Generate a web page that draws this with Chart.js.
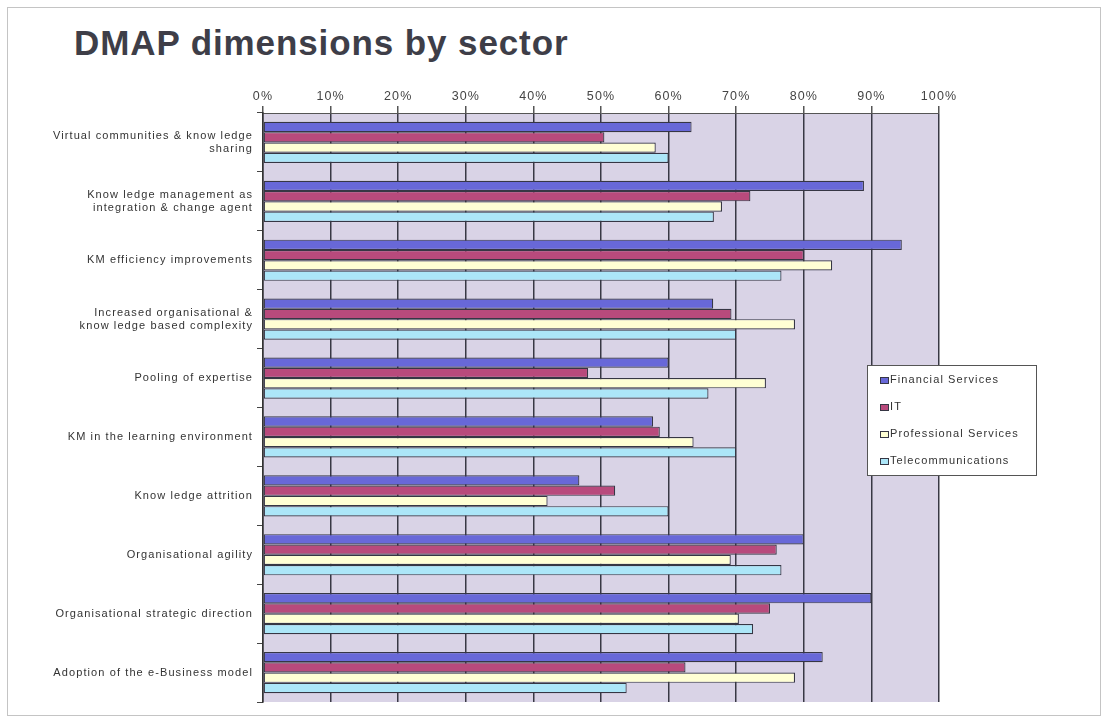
<!DOCTYPE html>
<html>
<head>
<meta charset="utf-8">
<title>DMAP dimensions by sector</title>
<script src="https://cdn.jsdelivr.net/npm/chart.js"></script>
<style>
  html, body { margin: 0; padding: 0; background: #fff; }
  .wrap { position: relative; width: 1108px; height: 721px; overflow: hidden; }
  .frame { position: absolute; left: 7px; top: 7px; width: 1094px; height: 709px; border: 1px solid #c4c4c4; box-sizing: border-box; }
  h1 { position: absolute; left: 74px; top: 25px; margin: 0; font: bold 35px/1 "Liberation Sans", Arial, sans-serif; letter-spacing: 0.9px; color: #3e3e48; white-space: nowrap; }
  canvas { position: absolute; left: 0; top: 0; }
</style>
</head>
<body>
<div class="wrap">
  <div class="frame"></div>
  <h1>DMAP dimensions by sector</h1>
  <canvas id="bar-chart-dmap" width="1108" height="721"></canvas>
</div>
<script>
const categories = [
  ["Virtual communities & know ledge", "sharing"],
  ["Know ledge management as", "integration & change agent"],
  "KM efficiency improvements",
  ["Increased organisational &", "know ledge based complexity"],
  "Pooling of expertise",
  "KM in the learning environment",
  "Know ledge attrition",
  "Organisational agility",
  "Organisational strategic direction",
  "Adoption of the e-Business model"
];

const financialServices = [63.4, 88.9, 94.5, 66.6, 60, 57.7, 46.8, 80, 90, 82.8];
const it = [50.5, 72.1, 80, 69.3, 48.1, 58.7, 52.1, 76, 75, 62.5];
const professionalServices = [58.1, 67.9, 84.2, 78.7, 74.4, 63.7, 42.1, 69.2, 70.4, 78.7];
const telecommunications = [60, 66.7, 76.7, 70, 65.9, 70, 60, 76.7, 72.5, 53.8];

const xTicks = [0, 10, 20, 30, 40, 50, 60, 70, 80, 90, 100];

const FONT = '"Liberation Sans", Arial, sans-serif';
const OUTLINE = '#363644';

// the labels are set a little loose, so widen the canvas letter spacing
const looseText = {
  id: 'looseText',
  beforeUpdate(chart) { chart.ctx.letterSpacing = '1.1px'; },
  beforeDraw(chart) { chart.ctx.letterSpacing = '1.1px'; }
};

// lavender plot background behind the grid
const plotBackground = {
  id: 'plotBackground',
  beforeDraw(chart) {
    const { ctx, chartArea: a } = chart;
    ctx.save();
    ctx.fillStyle = '#d9d3e6';
    ctx.fillRect(a.left, a.top, a.right - a.left, a.bottom - a.top);
    ctx.restore();
  }
};

// boxed legend sitting over the right edge of the plot
const boxLegend = {
  id: 'boxLegend',
  afterDraw(chart) {
    const ctx = chart.ctx;
    const x = 867, y = 365, w = 169, h = 110;
    ctx.save();
    ctx.fillStyle = '#fff';
    ctx.fillRect(x, y, w, h);
    ctx.strokeStyle = '#555';
    ctx.lineWidth = 1;
    ctx.strokeRect(x + 0.5, y + 0.5, w, h);
    ctx.font = '11px ' + FONT;
    ctx.textBaseline = 'middle';
    chart.data.datasets.forEach((ds, i) => {
      const cy = y + 15 + i * 27;
      ctx.fillStyle = ds.backgroundColor;
      ctx.fillRect(x + 13, cy - 3, 9, 6);
      ctx.strokeStyle = OUTLINE;
      ctx.strokeRect(x + 13.5, cy - 2.5, 8, 6);
      ctx.fillStyle = '#333';
      ctx.fillText(ds.label, x + 23, cy);
    });
    ctx.restore();
  }
};

const data = {
  labels: categories,
  datasets: [
    { label: 'Financial Services', data: financialServices, backgroundColor: '#6868d8' },
    { label: 'IT', data: it, backgroundColor: '#b84a7c' },
    { label: 'Professional Services', data: professionalServices, backgroundColor: '#ffffd4' },
    { label: 'Telecommunications', data: telecommunications, backgroundColor: '#ace6f8' }
  ].map(ds => Object.assign(ds, {
    borderColor: OUTLINE,
    borderWidth: 1.2,
    borderSkipped: false,
    categoryPercentage: 0.7,
    barPercentage: 1.0
  }))
};

const config = {
  type: 'bar',
  data: data,
  options: {
    indexAxis: 'y',
    responsive: false,
    animation: false,
    layout: { padding: { left: 10, right: 169, top: 80, bottom: 19 } },
    plugins: {
      legend: { display: false },
      tooltip: { enabled: false }
    },
    scales: {
      x: {
        position: 'top',
        min: 0,
        max: 100,
        afterBuildTicks: s => { s.ticks = xTicks.map(v => ({ value: v })); },
        afterFit: s => { s.height = 33; },
        ticks: {
          callback: v => v + '%',
          color: '#444',
          padding: 2,
          maxRotation: 0,
          font: { family: FONT, size: 12.5 }
        },
        grid: { color: '#383844', lineWidth: 1.5, tickLength: 7, tickColor: '#555' },
        border: { display: true, color: '#555' }
      },
      y: {
        afterFit: s => { s.width = 253; },
        ticks: {
          color: '#333',
          padding: 4,
          font: { family: FONT, size: 11, lineHeight: 1.2 }
        },
        grid: { drawOnChartArea: false, offset: true, tickLength: 6, tickColor: '#444' },
        border: { display: true, color: '#333', width: 1.5 }
      }
    }
  },
  plugins: [looseText, plotBackground, boxLegend]
};

let ctx = document.getElementById('bar-chart-dmap').getContext('2d');
window.myBar = new Chart(ctx, config);
</script>
</body>
</html>
